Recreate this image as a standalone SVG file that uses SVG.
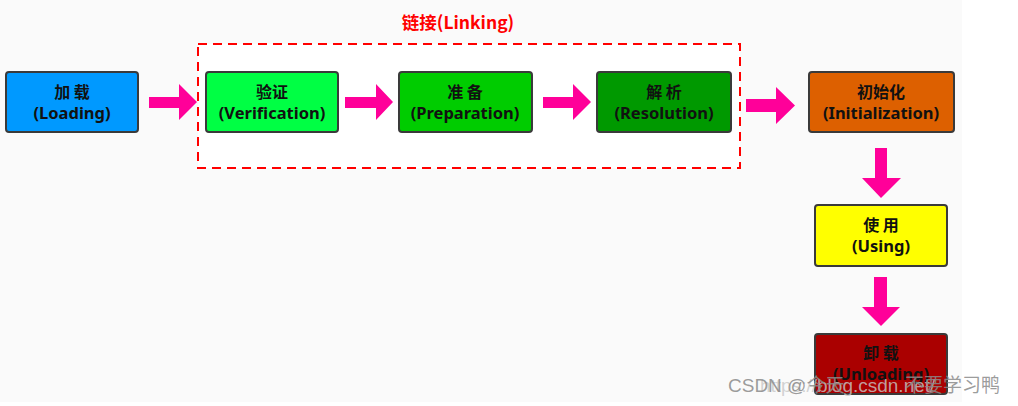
<svg xmlns="http://www.w3.org/2000/svg" width="1018" height="406" viewBox="0 0 1018 406">
<style>
.box{stroke:#3a3a3a;stroke-width:2}
.zh{font-family:"Noto Sans CJK SC","Noto Sans",sans-serif;font-weight:bold;font-size:16px;fill:#111;text-anchor:middle}
.en{font-family:"Noto Sans","Noto Sans CJK SC",sans-serif;font-weight:bold;font-size:16.5px;fill:#111;text-anchor:middle}
.arrow{fill:#ff0099}
.wm{font-family:"Liberation Sans","Noto Sans CJK SC",sans-serif;font-size:19px}
</style>
<rect x="0" y="0" width="1018" height="406" fill="#ffffff"/>
<rect x="0" y="0" width="962" height="402" fill="#fafafa"/>
<g id="linking">
<rect x="198" y="44" width="542" height="124" fill="#ffffff" stroke="#ff0000" stroke-width="2" stroke-dasharray="9,6"/>
<text x="458" y="29" font-family="Noto Sans CJK SC,Noto Sans,sans-serif" font-weight="bold" font-size="17.5" fill="#ff0000" text-anchor="middle">链接(Linking)</text>
</g>
<g id="loading">
<rect class="box" x="6" y="72" width="132" height="60" rx="3" fill="#0099ff"/>
<text class="zh" x="72" y="98">加 载</text>
<text class="en" x="72" y="119">(Loading)</text>
</g>
<g id="verification">
<rect class="box" x="206" y="72" width="132" height="60" rx="3" fill="#00ff44"/>
<text class="zh" x="272" y="98">验证</text>
<text class="en" x="272" y="119">(Verification)</text>
</g>
<g id="preparation">
<rect class="box" x="399" y="72" width="133" height="60" rx="3" fill="#00cc00"/>
<text class="zh" x="465" y="98">准 备</text>
<text class="en" x="465" y="119">(Preparation)</text>
</g>
<g id="resolution">
<rect class="box" x="597" y="72" width="134" height="60" rx="3" fill="#009900"/>
<text class="zh" x="664" y="98">解 析</text>
<text class="en" x="664" y="119">(Resolution)</text>
</g>
<g id="initialization">
<rect class="box" x="809" y="72" width="145" height="60" rx="3" fill="#dd6000"/>
<text class="zh" x="881" y="98">初始化</text>
<text class="en" x="881" y="119">(Initialization)</text>
</g>
<g id="using">
<rect class="box" x="815" y="205" width="132" height="61" rx="3" fill="#ffff00"/>
<text class="zh" x="881" y="231">使 用</text>
<text class="en" x="881" y="252">(Using)</text>
</g>
<g id="unloading">
<rect class="box" x="815" y="334" width="132" height="60" rx="3" fill="#aa0000"/>
<text class="zh" x="881" y="359">卸 载</text>
<text class="en" x="881" y="380">(Unloading)</text>
</g>
<g id="connectors">
<polygon class="arrow" points="149,97 179,97 179,84 197,102 179,120 179,108 149,108"/>
<polygon class="arrow" points="345,97 376,97 376,84 393,102 376,120 376,108 345,108"/>
<polygon class="arrow" points="543,97 573,97 573,84 591,102 573,120 573,108 543,108"/>
<polygon class="arrow" points="746,99 776,99 776,87 795,105.5 776,124 776,112 746,112"/>
<polygon class="arrow" points="875,148 887,148 887,178 901,178 881,198 862,178 875,178"/>
<polygon class="arrow" points="874,277 887,277 887,307 900,307 881,326 862,307 874,307"/>
</g>
<g id="watermark">
<text class="wm" x="760" y="392" font-size="17" fill="#c8c8c8" fill-opacity="0.8">https://blog.csdn.net/</text>
<text class="wm" x="728" y="392" fill="#8a8a8a" fill-opacity="0.85">CSDN @今天<tspan x="905">不要学习鸭</tspan></text>
</g>
</svg>
